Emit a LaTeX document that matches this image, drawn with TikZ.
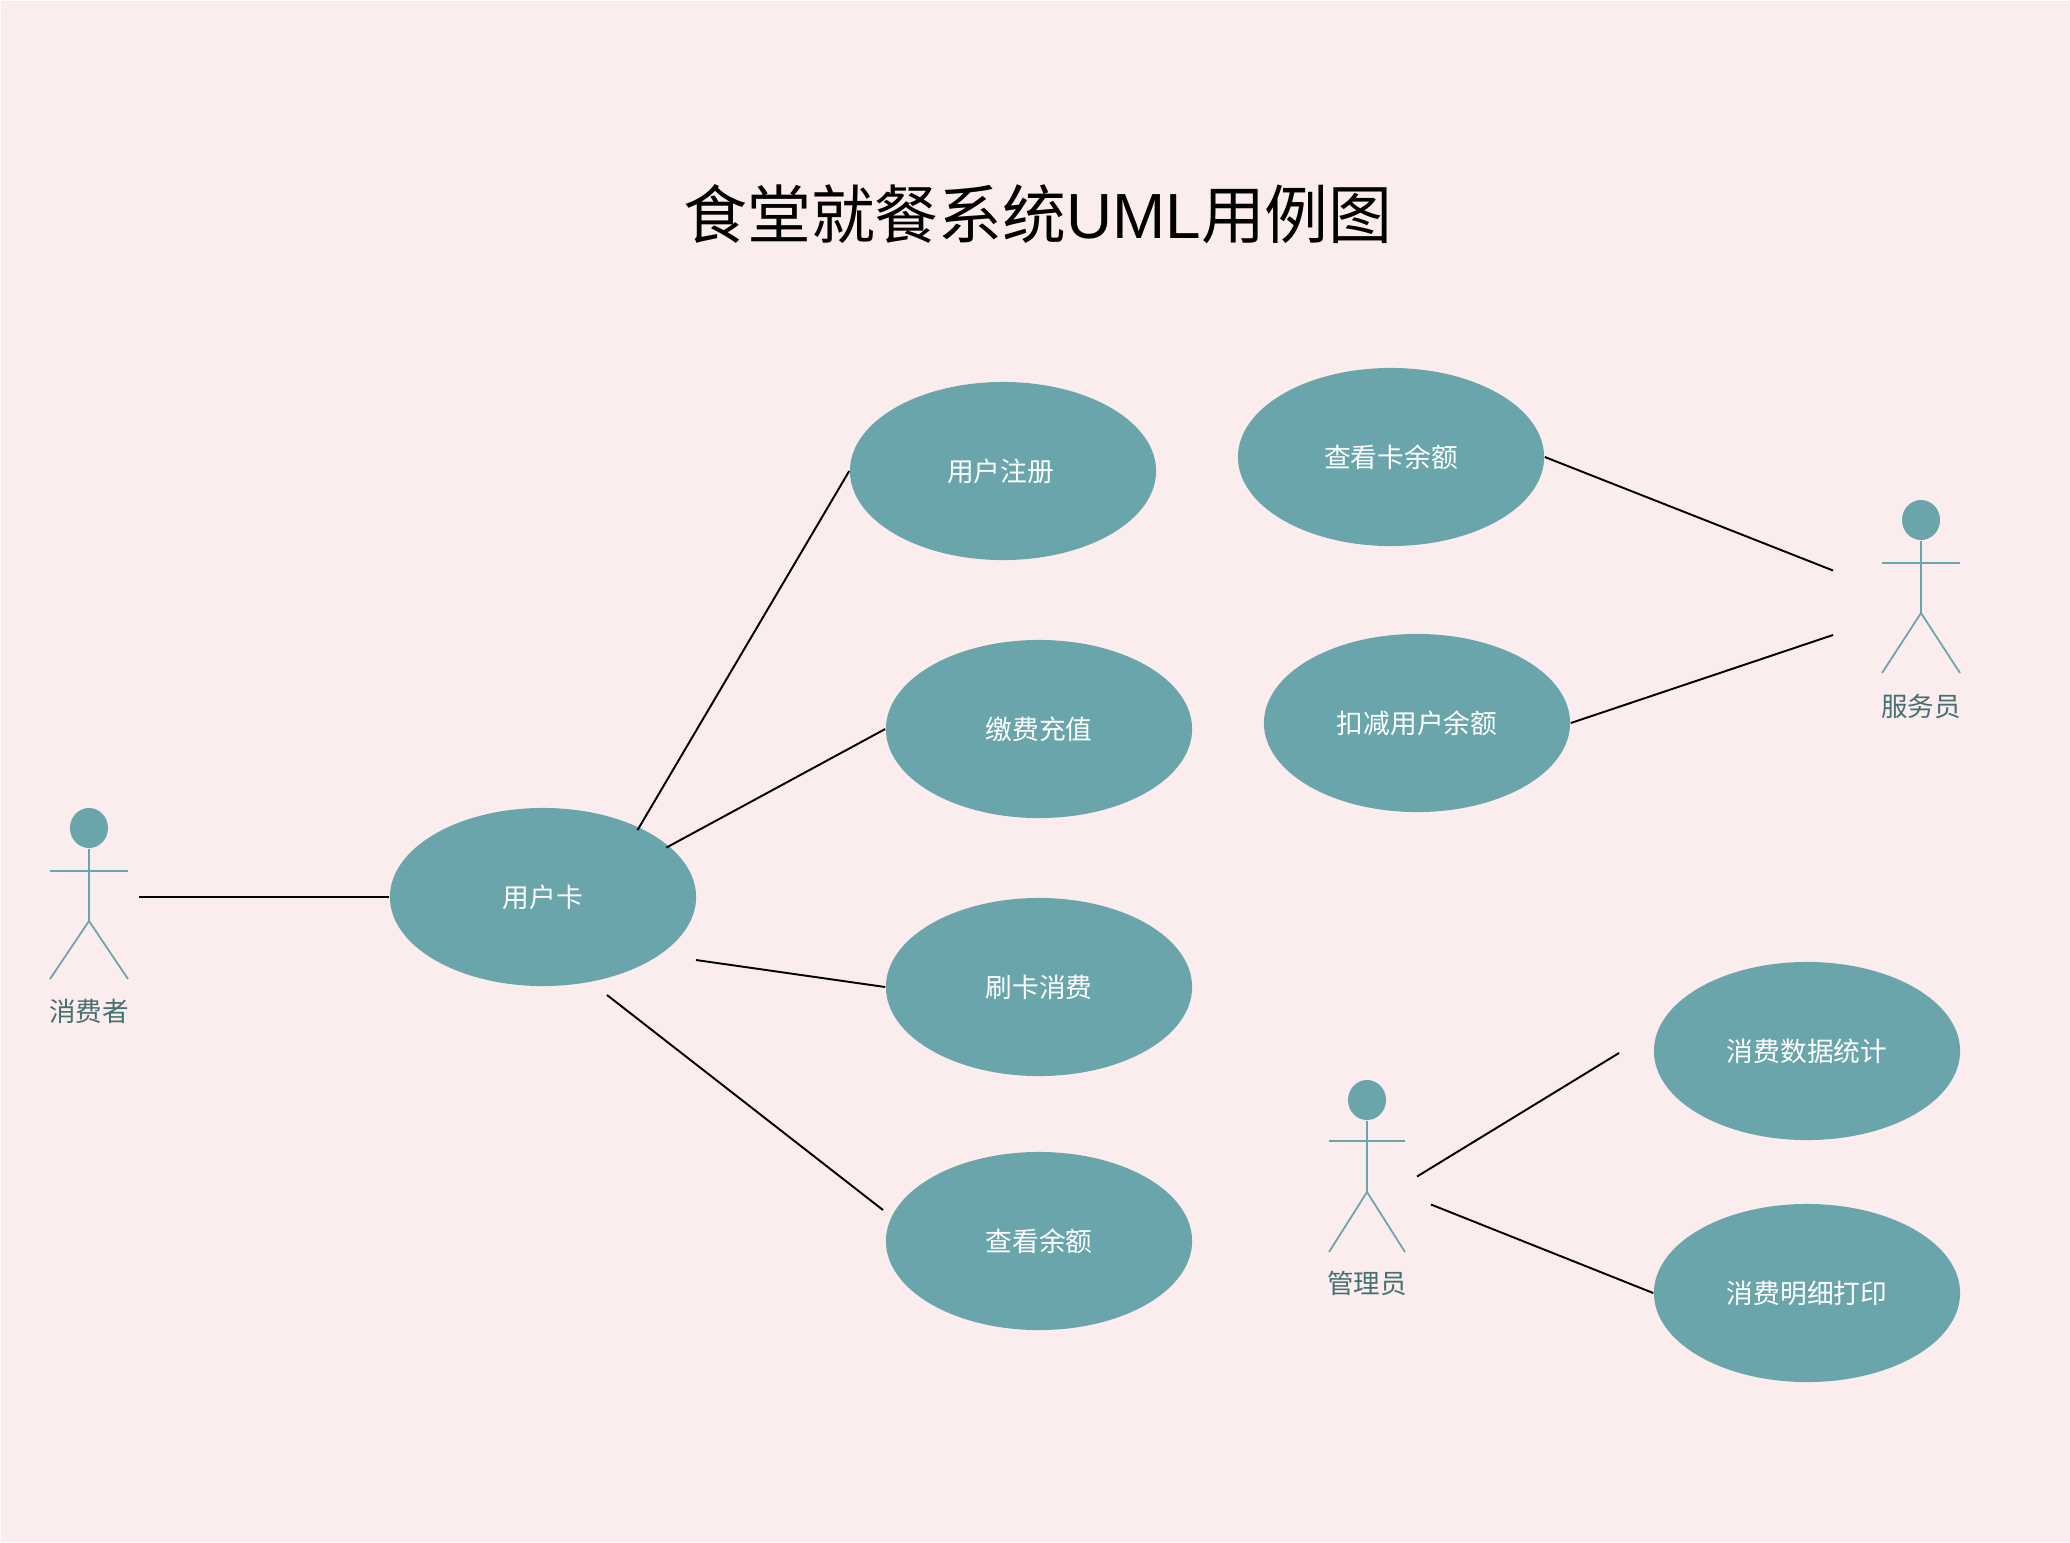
\documentclass[tikz,border=0pt]{standalone}
\usepackage{fontspec}
\newfontfamily\cjk{Noto Sans CJK SC}
\newfontfamily\latin{Liberation Sans}
\usetikzlibrary{shapes.geometric}
\definecolor{pagebg}{HTML}{FBEDED}
\definecolor{usecase}{HTML}{6AA5AB}
\definecolor{actortext}{HTML}{466F73}
\tikzset{
  usecasenode/.style={ellipse, fill=usecase, text=white, inner sep=0pt, minimum width=3.06cm, minimum height=1.78cm, font=\cjk\fontsize{7.6pt}{9pt}\selectfont},
  actorhead/.style={ellipse, fill=usecase, inner sep=0pt, minimum width=0.38cm, minimum height=0.40cm},
  actorline/.style={draw=usecase, line width=0.5pt},
  actorlabel/.style={text=actortext, inner sep=0pt, font=\cjk\fontsize{7.55pt}{9pt}\selectfont},
  link/.style={draw=black, line width=0.55pt},
  pics/actor/.style args={#1/#2/#3/#4/#5/#6}{code={
    \node[actorhead](-head) at (0,0){};
    \coordinate (-hip) at (0,#3);
    \coordinate (-armL) at (-#6,#2);
    \coordinate (-armR) at (#6,#2);
    \coordinate (-footL) at (-#6,#4);
    \coordinate (-footR) at (#6,#4);
    \draw[actorline] (-head.south) -- (-hip);
    \draw[actorline] (-armL) -- (-armR);
    \draw[actorline] (-footL) -- (-hip) -- (-footR);
    \node[actorlabel](-label) at (0,#5){#1};
  }}
}
\begin{document}
\begin{tikzpicture}[x=0.01cm, y=-0.01cm]
      \useasboundingbox (0,0) rectangle (2070,1542);
      \fill[pagebg] (1,1) rectangle (2070,1542);

      \node[inner sep=0pt, font=\cjk\fontsize{18.15pt}{20pt}\selectfont](title) at (1038,214){食堂就餐系统{\latin UML}用例图};

      \node[usecasenode](card) at (543,897){用户卡};
      \node[usecasenode](register) at (1003,471){\hspace*{-1.4pt}\raisebox{0.3pt}{用户注册}};
      \node[usecasenode](recharge) at (1039,729){缴费充值};
      \node[usecasenode](swipe) at (1039,987){\raisebox{0.5pt}{刷卡消费}};
      \node[usecasenode](balance) at (1039,1241){查看余额};
      \node[usecasenode](cardbalance) at (1391,457){查看卡余额};
      \node[usecasenode](deduct) at (1417,723){扣减用户余额};
      \node[usecasenode](stats) at (1807,1051){消费数据统计};
      \node[usecasenode](detail) at (1807,1293){\raisebox{0.3pt}{消费明细打印}};

      \pic (consumer) at (89,828) {actor=消费者/43/93/151/183/39};
      \pic (server) at (1921,520) {actor=服务员/43/93/153/186/39};
      \pic (manager) at (1367,1100) {actor=管理员/41/92/152/183/38};

      \coordinate (consumerEnd) at (139,897);
      \coordinate (swipeStart) at (696,960);
      \coordinate (balanceStart) at (607,995);
      \coordinate (balanceEnd) at (883,1210);
      \coordinate (serverTop) at (1833,570.5);
      \coordinate (serverBottom) at (1833,635);
      \coordinate (managerTop) at (1417,1176.5);
      \coordinate (statsEnd) at (1619,1053);
      \coordinate (managerBottom) at (1431,1204.5);

      \draw[link] (consumerEnd) -- (card.west);
      \draw[link, shorten <=-1pt] (card.36) -- (register.west);
      \draw[link, shorten <=-1pt] (card.22) -- (recharge.west);
      \draw[link] (swipeStart) -- (swipe.west);
      \draw[link] (balanceStart) -- (balanceEnd);
      \draw[link] (cardbalance.east) -- (serverTop);
      \draw[link] (deduct.east) -- (serverBottom);
      \draw[link] (managerTop) -- (statsEnd);
      \draw[link] (managerBottom) -- (detail.west);
    \end{tikzpicture}
\end{document}
